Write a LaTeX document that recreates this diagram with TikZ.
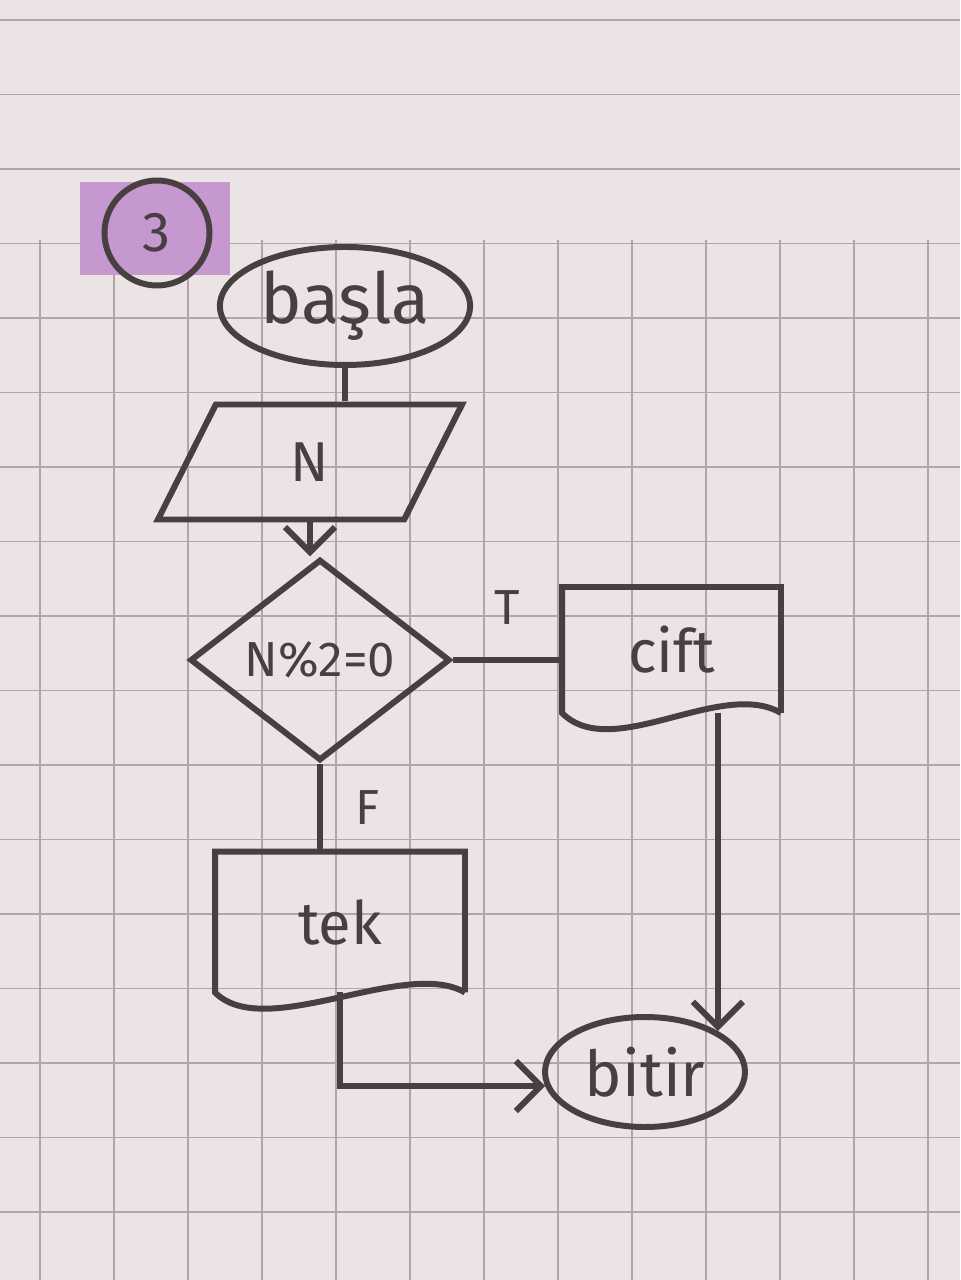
\documentclass[tikz,border=0pt]{standalone}
\usepackage{fontspec}
\setmainfont{Fira Sans}
\usetikzlibrary{shapes.geometric,arrows.meta}
\definecolor{paper}{RGB}{236,227,228}
\definecolor{gridline}{RGB}{175,165,170}
\definecolor{pencil}{RGB}{72,64,64}
\definecolor{marker}{RGB}{198,152,208}
\begin{document}
\begin{tikzpicture}[
		color=pencil,
		line width=1.7pt,
		every node/.style={font=\fontsize{18}{20}\selectfont},
		startstop/.style={ellipse,draw,inner sep=1pt},
		io/.style={trapezium,trapezium left angle=73,trapezium right angle=107,trapezium stretches=true,draw},
		decision/.style={diamond,draw,inner sep=1pt},
		docbox/.style={inner sep=0pt},
		arr/.style={-{Straight Barb[length=2.5mm,width=5mm]}},
		lbl/.style={font=\fontsize{14}{16}\selectfont}
	]
	\fill[paper] (0,0) rectangle (9.6,-12.8);
	\useasboundingbox (0,0) rectangle (9.6,-12.8);
	\foreach \k in {0,...,17}
		\draw[gridline,line width=0.5pt] (0,{-0.2-0.745*\k}) -- (9.6,{-0.2-0.745*\k});
	\foreach \k in {0,...,12}
		\draw[gridline,line width=0.5pt] ({0.4+0.74*\k},-2.4) -- ({0.4+0.74*\k},-12.8);
	\fill[marker] (0.8,-1.82) rectangle (2.3,-2.75);

	\node[circle,draw,minimum size=1.05cm,font=\fontsize{16}{18}\selectfont] (num) at (1.57,-2.33) {3};
	\node[startstop,minimum width=2.5cm,minimum height=1.18cm,font=\fontsize{20}{22}\selectfont] (basla) at (3.45,-3.06) {başla};
	\node[io,minimum width=3.05cm,minimum height=1.15cm,font=\fontsize{16}{18}\selectfont] (giris) at (3.1,-4.62) {N};
	\node[decision,minimum width=2.6cm,minimum height=1.95cm,font=\fontsize{14}{16}\selectfont] (cond) at (3.2,-6.6) {N\%2=0};
	\node[docbox,minimum width=2.13cm,minimum height=1.2cm,font=\fontsize{17}{19}\selectfont] (cift) at (6.715,-6.5) {cift};
	\node[docbox,minimum width=2.44cm,minimum height=1.35cm,font=\fontsize{17}{19}\selectfont] (tek) at (3.4,-9.22) {tek};
	\node[startstop,minimum width=2cm,minimum height=1.1cm] (bitir) at (6.45,-10.72) {bitir};

	\foreach \d in {cift,tek}
		\draw (\d.south east) -- (\d.north east) -- (\d.north west) -- (\d.south west)
			.. controls +(0.5,-0.5) and +(-0.6,0.35) .. (\d.south east);

	\draw (basla.south) -- (basla.south |- giris.north);
	\draw[arr] (giris.south) -- (giris.south |- cond.north);
	\draw (cond.east) -- (cond.east -| cift.west) node[lbl,midway,above=6pt] {T};
	\draw (cond.south) -- (cond.south |- tek.north) node[lbl,midway,right=6pt] {F};
	\draw[arr] (cift.south -| bitir.north east) -- (bitir.north east);
	\draw[arr] (tek.south) |- (bitir.188);
\end{tikzpicture}
\end{document}
